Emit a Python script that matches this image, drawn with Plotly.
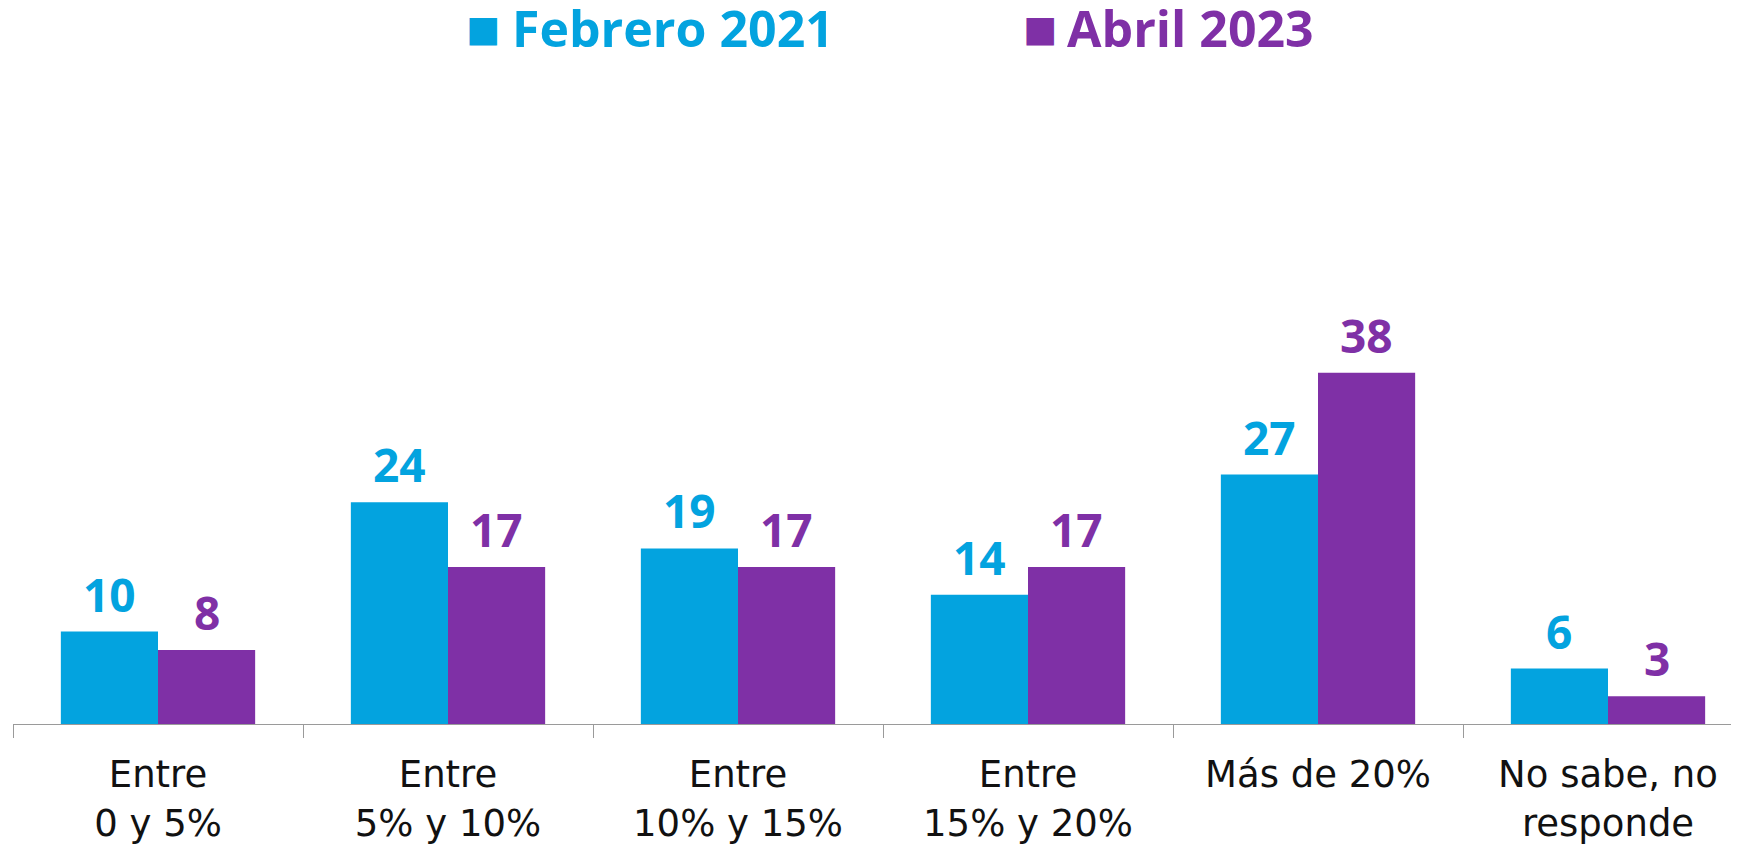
import plotly.graph_objects as go

categories = ["Entre<br>0 y 5%", "Entre<br>5% y 10%", "Entre<br>10% y 15%",
              "Entre<br>15% y 20%", "Más de 20%", "No sabe, no<br>responde"]
series_names = ["Febrero 2021", "Abril 2023"]
feb_2021 = [10, 24, 19, 14, 27, 6]
abr_2023 = [8, 17, 17, 17, 38, 3]

BLUE = "#03A3DF"
PURPLE = "#7F30A6"
FONT = "Open Sans"

fig = go.Figure()
fig.add_trace(go.Bar(x=categories, y=feb_2021, name=series_names[0],
                     marker=dict(color=BLUE, line=dict(width=0))))
fig.add_trace(go.Bar(x=categories, y=abr_2023, name=series_names[1],
                     marker=dict(color=PURPLE, line=dict(width=0))))

cat_px = 290.0
plot_w = 1734.0
bar_offset = 0.1675 * cat_px
for vals, col, sh in [(feb_2021, BLUE, -bar_offset), (abr_2023, PURPLE, bar_offset)]:
    for c, v in zip(categories, vals):
        fig.add_annotation(x=c, y=v, text=f"<b>{v}</b>", showarrow=False,
                           xshift=sh, yshift=5, yanchor="bottom",
                           font=dict(family=FONT, size=46, color=col))

# legend as text: square + label
legend_y = 1.115
for name, col, sq_x, txt_x in [(series_names[0], BLUE, 483, 510),
                               (series_names[1], PURPLE, 1040, 1065)]:
    fig.add_annotation(xref="paper", yref="paper", x=(sq_x - 13) / plot_w, y=legend_y,
                       xanchor="center", yanchor="middle", showarrow=False,
                       text="■", font=dict(family="DejaVu Sans", size=36, color=col))
    fig.add_annotation(xref="paper", yref="paper", x=(txt_x - 13) / plot_w, y=legend_y,
                       xanchor="left", yanchor="middle", showarrow=False,
                       text=f"<b>{name}</b>",
                       font=dict(family=FONT, size=50, color=col))

fig.update_layout(
    width=1739, height=846,
    margin=dict(l=5, r=0, t=92, b=130),
    barmode="group", bargap=0.33, bargroupgap=0,
    plot_bgcolor="white", paper_bgcolor="white",
    showlegend=False,
    xaxis=dict(range=[-0.5, -0.5 + plot_w / cat_px], tickson="boundaries",
               ticks="outside", ticklen=13, tickcolor="#9a9a9a", tickwidth=1,
               showline=True, linecolor="#9a9a9a", linewidth=1,
               showgrid=False, ticklabelstandoff=18,
               tickfont=dict(family="DejaVu Sans", size=37, color="#111111")),
    yaxis=dict(range=[0, 67.53], visible=False, showgrid=False),
)

fig.write_html("out.html")
